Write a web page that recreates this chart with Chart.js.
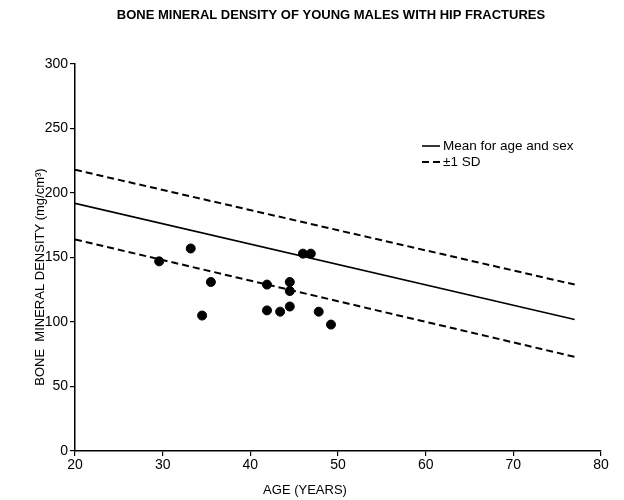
<!DOCTYPE html>
<html>
<head>
<meta charset="utf-8">
<script src="https://cdn.jsdelivr.net/npm/chart.js@4.4.0/dist/chart.umd.min.js"></script>
<style>
html,body{margin:0;padding:0;background:#fff;}
#wrap{width:624px;height:500px;position:relative;}
</style>
</head>
<body>
<div id="wrap"><canvas id="c" width="624" height="500"></canvas></div>
<script>
const chartTitle = "BONE MINERAL DENSITY OF YOUNG MALES WITH HIP FRACTURES";
const xTitle = "AGE (YEARS)";
const yTitle = "BONE  MINERAL DENSITY (mg/cm³)";
const xTicks = [20, 30, 40, 50, 60, 70, 80];
const yTicks = [0, 50, 100, 150, 200, 250, 300];

const patientAge = [29.6, 33.2, 35.5, 34.5, 41.9, 41.9, 43.4, 44.5, 44.5, 44.5, 46.0, 46.9, 47.8, 49.2];
const patientBMD = [147, 157, 131, 105, 129, 109, 108, 131, 124, 112, 153, 153, 108, 98];

const lineAge = [20, 77];
const meanBMD = [192, 102];
const plusSD = [218, 129];
const minusSD = [164, 73];

const legendLabels = ["Mean for age and sex", "±1 SD"];

const toXY = (xs, ys) => xs.map((x, i) => ({x: x, y: ys[i]}));

const FONT = "'Liberation Sans', Arial, Helvetica, sans-serif";

const textPlugin = {
  id: 'texts',
  afterDraw(chart) {
    const ctx = chart.ctx;
    ctx.save();
    ctx.fillStyle = '#000';
    // title
    ctx.font = "bold 13px " + FONT;
    ctx.textAlign = 'center';
    ctx.textBaseline = 'middle';
    ctx.fillText(chartTitle, 331, 15);
    // x title
    ctx.font = "13px " + FONT;
    ctx.fillText(xTitle, 305, 490);
    // y title
    ctx.save();
    ctx.translate(40, 277);
    ctx.rotate(-Math.PI / 2);
    ctx.fillText(yTitle, 0, 0);
    ctx.restore();
    // legend
    ctx.font = "13.5px " + FONT;
    ctx.textAlign = 'left';
    const rows = [
      {ds: chart.data.datasets[0], y: 146},
      {ds: chart.data.datasets[1], y: 162}
    ];
    rows.forEach((r, i) => {
      ctx.strokeStyle = '#000';
      ctx.lineWidth = r.ds.borderWidth;
      ctx.setLineDash(r.ds.borderDash || []);
      ctx.beginPath();
      ctx.moveTo(422, r.y);
      ctx.lineTo(440, r.y);
      ctx.stroke();
      ctx.setLineDash([]);
      ctx.fillText(legendLabels[i], 443, r.y);
    });
    ctx.restore();
  }
};

new Chart(document.getElementById('c'), {
  type: 'scatter',
  data: {
    datasets: [
      {label: legendLabels[0], data: toXY(lineAge, meanBMD), showLine: true, borderColor: '#000', borderWidth: 1.6, pointRadius: 0, fill: false},
      {label: legendLabels[1], data: toXY(lineAge, plusSD), showLine: true, borderColor: '#000', borderWidth: 2, borderDash: [7, 4], pointRadius: 0, fill: false},
      {label: legendLabels[1] + ' (lower)', data: toXY(lineAge, minusSD), showLine: true, borderColor: '#000', borderWidth: 2, borderDash: [7, 4], pointRadius: 0, fill: false},
      {label: 'Patients', data: toXY(patientAge, patientBMD), showLine: false, backgroundColor: '#000', borderColor: '#000', pointRadius: 4.5, pointHoverRadius: 4.5}
    ]
  },
  options: {
    responsive: false,
    animation: false,
    events: [],
    layout: {padding: {left: 0, right: 23, top: 64, bottom: 0}},
    plugins: {legend: {display: false}, title: {display: false}, tooltip: {enabled: false}},
    scales: {
      x: {
        type: 'linear', min: 20, max: 80,
        afterBuildTicks(s) { s.ticks = xTicks.map(v => ({value: v})); },
        afterFit(s) { s.height = 49; },
        grid: {display: true, drawOnChartArea: false, drawTicks: true, tickLength: 5, color: '#000', lineWidth: 1.2},
        border: {display: true, color: '#000', width: 1.5},
        ticks: {color: '#000', font: {family: FONT, size: 14}, padding: 1, maxRotation: 0}
      },
      y: {
        type: 'linear', min: 0, max: 300,
        afterBuildTicks(s) { s.ticks = yTicks.map(v => ({value: v})); },
        afterFit(s) { s.width = 75; },
        grid: {display: true, drawOnChartArea: false, drawTicks: true, tickLength: 5, color: '#000', lineWidth: 1.2},
        border: {display: true, color: '#000', width: 1.5},
        ticks: {color: '#000', font: {family: FONT, size: 14}, padding: 2}
      }
    }
  },
  plugins: [textPlugin]
});
</script>
</body>
</html>
